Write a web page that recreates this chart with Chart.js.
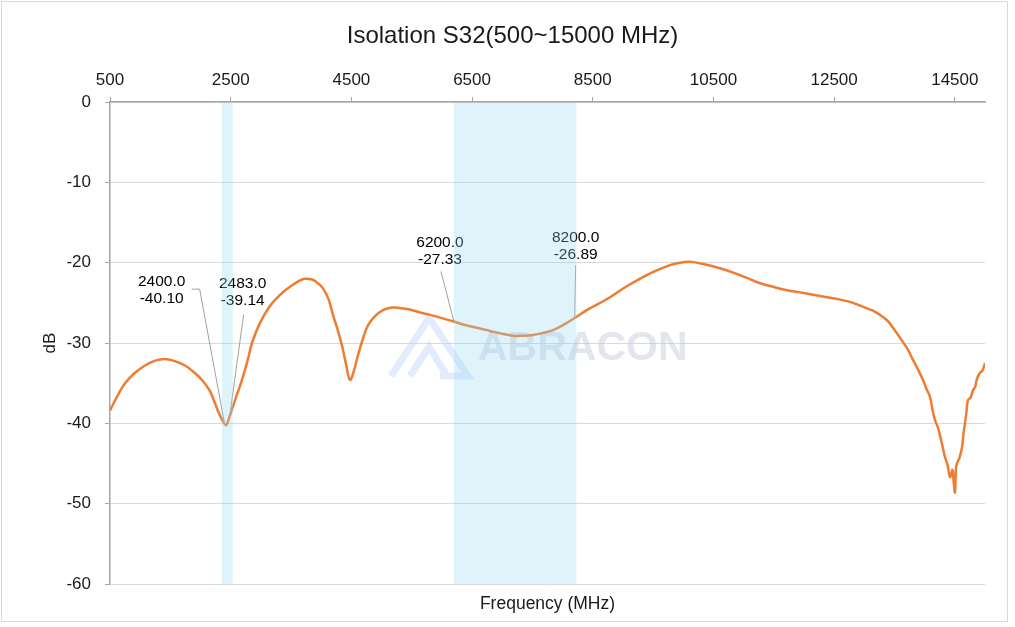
<!DOCTYPE html>
<html>
<head>
<meta charset="utf-8">
<script src="https://cdn.jsdelivr.net/npm/chart.js@4/dist/chart.umd.min.js"></script>
<style>
  body { margin: 0; background: #fff; }
  #wrap { width: 1015px; height: 627px; position: relative; }
</style>
</head>
<body>
<div id="wrap"><canvas id="isoChart"></canvas></div>
<script>
// measured S32 curve (MHz, dB)
var freq = [500, 650, 750, 900, 1080, 1250, 1411, 1550, 1743, 1900, 2024, 2150, 2240, 2320, 2400, 2430, 2483, 2538, 2600, 2687,
  2780, 2853, 2986, 3150, 3317, 3500, 3650, 3731, 3850, 3950, 4030, 4120, 4195, 4270, 4344, 4410, 4477, 4540, 4610, 4690,
  4775, 4900, 5024, 5150, 5256, 5450, 5637, 5803, 6000, 6200, 6400, 6581, 6800, 6962, 7178, 7350, 7509, 7700, 7841, 8000,
  8200, 8400, 8600, 8785, 9050, 9332, 9550, 9779, 9950, 10111, 10350, 10608, 10850, 11055, 11250, 11486, 11700, 11933, 12150, 12381,
  12600, 12812, 13044, 13150, 13259, 13380, 13475, 13560, 13641, 13720, 13807, 13890, 13972, 14030, 14088, 14130, 14171, 14215, 14254, 14300,
  14337, 14380, 14420, 14460, 14480, 14502, 14520, 14535, 14580, 14618, 14645, 14668, 14690, 14718, 14760, 14800, 14834, 14870, 14917, 14960, 15000];
var s32 = [-38.4, -36.2, -35.0, -33.8, -32.8, -32.2, -32.0, -32.2, -32.8, -33.7, -34.6, -35.9, -37.5, -39.0, -40.1, -40.2, -39.14, -37.9, -36.5, -34.6,
  -32.2, -30.0, -27.5, -25.4, -24.0, -22.9, -22.2, -22.0, -22.1, -22.6, -23.2, -24.5, -26.5, -28.3, -30.3, -32.6, -34.6, -33.5, -31.5, -29.5,
  -27.8, -26.6, -25.9, -25.6, -25.6, -25.8, -26.2, -26.5, -26.9, -27.33, -27.8, -28.1, -28.5, -28.8, -29.1, -29.1, -29.0, -28.7, -28.4, -27.8,
  -26.89, -25.9, -25.1, -24.3, -23.0, -21.8, -21.0, -20.3, -20.0, -19.9, -20.2, -20.7, -21.3, -21.9, -22.5, -23.0, -23.4, -23.7, -24.0, -24.3,
  -24.6, -25.0, -25.7, -26.0, -26.5, -27.2, -28.1, -29.0, -29.9, -30.8, -32.1, -33.3, -34.6, -35.7, -36.7, -38.3, -39.6, -40.4, -41.5, -43.0,
  -44.2, -45.2, -46.7, -45.8, -47.2, -48.6, -45.5, -45.0, -44.2, -43.0, -41.2, -40.0, -38.8, -37.1, -36.8, -35.9, -35.5, -34.4, -33.7, -33.4, -32.5];

var xTicks = [500, 2500, 4500, 6500, 8500, 10500, 12500, 14500];
var yTicks = [0, -10, -20, -30, -40, -50, -60];

// shaded bands (MHz)
var bandStart = [2355, 6200];
var bandEnd = [2535, 8230];

// marker callouts
var markerFreq = [2400, 2483, 6200, 8200];
var markerDb = [-40.10, -39.14, -27.33, -26.89];
// label offsets from the marker point, in pixels: [textDx, textDy, leaderDx, leaderDy, stub]
var markerLayout = [[-63, -134, -25, -135, -8], [13, -124, 14, -102, 0], [-14, -70, -13, -50, 0], [1, -72, 1, -53, 0]];

var FONT = '"Liberation Sans", Arial, sans-serif';

var frame = {
  id: 'frame',
  beforeDraw: function (chart) {
    var c = chart.ctx;
    c.save();
    c.fillStyle = '#fff';
    c.fillRect(0, 0, chart.width, chart.height);
    c.strokeStyle = '#d9d9d9';
    c.lineWidth = 1;
    c.strokeRect(1.5, 1.5, 1006, 620);
    c.restore();
  }
};

var watermark = {
  id: 'watermark',
  beforeDatasetsDraw: function (chart) {
    var c = chart.ctx;
    c.save();
    c.strokeStyle = 'rgba(190,212,250,0.45)';
    c.lineWidth = 7;
    c.lineJoin = 'miter';
    c.beginPath();
    c.moveTo(391, 376); c.lineTo(429, 318); c.lineTo(468, 376); c.lineTo(440, 376);
    c.moveTo(410, 376); c.lineTo(429, 347); c.lineTo(447, 376);
    c.stroke();
    c.fillStyle = 'rgba(200,205,222,0.5)';
    c.font = 'bold 41px ' + FONT;
    c.textBaseline = 'alphabetic';
    c.fillText('ABRACON', 478, 360, 228);
    c.restore();
  }
};

var callouts = {
  id: 'callouts',
  afterDatasetsDraw: function (chart) {
    var c = chart.ctx, xs = chart.scales.x, ys = chart.scales.y;
    c.save();
    c.font = '15.5px ' + FONT;
    c.textAlign = 'center';
    c.textBaseline = 'middle';
    for (var i = 0; i < markerFreq.length; i++) {
      var px = xs.getPixelForValue(markerFreq[i]);
      var py = ys.getPixelForValue(markerDb[i]);
      var L = markerLayout[i];
      c.strokeStyle = '#a0a0a0';
      c.lineWidth = 1;
      c.beginPath();
      if (L[4]) { c.moveTo(px + L[2] + L[4], py + L[3]); c.lineTo(px + L[2], py + L[3]); }
      else c.moveTo(px + L[2], py + L[3]);
      c.lineTo(px, py);
      c.stroke();
      c.fillStyle = '#000';
      c.fillText(markerFreq[i].toFixed(1), px + L[0], py + L[1] - 8.5);
      c.fillText(markerDb[i].toFixed(2), px + L[0], py + L[1] + 8.5);
    }
    // bands go over line and callouts
    var top = ys.getPixelForValue(0), bottom = ys.getPixelForValue(-60);
    c.fillStyle = 'rgba(150,215,242,0.3)';
    for (var j = 0; j < bandStart.length; j++) {
      var a = xs.getPixelForValue(bandStart[j]), b = xs.getPixelForValue(bandEnd[j]);
      c.fillRect(a, top + 1, b - a, bottom - top - 1);
    }
    c.restore();
  }
};

var pts = freq.map(function (f, i) { return { x: f, y: s32[i] }; });

new Chart(document.getElementById('isoChart'), {
  type: 'line',
  data: {
    datasets: [{
      label: 'S32',
      data: pts,
      borderColor: '#ED7D31',
      borderWidth: 2.5,
      pointRadius: 0,
      tension: 0.4,
      fill: false
    }]
  },
  options: {
    responsive: true,
    maintainAspectRatio: false,
    animation: false,
    layout: { padding: { left: 40, right: 30, top: 20, bottom: 6 } },
    plugins: {
      legend: { display: false },
      tooltip: { enabled: false },
      title: {
        display: true,
        text: 'Isolation S32(500~15000 MHz)',
        color: '#1a1a1a',
        font: { family: FONT, size: 24, weight: 'normal' },
        padding: { top: 2, bottom: 2 }
      }
    },
    scales: {
      x: {
        type: 'linear',
        position: 'top',
        min: 500,
        max: 15000,
        afterBuildTicks: function (s) { s.ticks = xTicks.map(function (v) { return { value: v }; }); },
        afterFit: function (s) { s.height = 49.2; },
        ticks: {
          color: '#1a1a1a', font: { family: FONT, size: 17 }, padding: 6, maxRotation: 0, autoSkip: false,
          callback: function (v) { return String(v); }
        },
        grid: { drawOnChartArea: false, drawTicks: true, tickLength: 5, tickColor: '#a6a6a6' },
        border: { color: '#a6a6a6', width: 1.5 }
      },
      x2: {
        type: 'linear',
        position: 'bottom',
        min: 500,
        max: 15000,
        afterFit: function (s) { s.height = 37; },
        ticks: { display: false },
        grid: { display: false, drawTicks: false },
        border: { display: false },
        title: { display: true, text: 'Frequency (MHz)', color: '#1a1a1a', font: { family: FONT, size: 17.5 }, padding: { top: 0, bottom: 6.5 } }
      },
      y: {
        type: 'linear',
        min: -60,
        max: 0,
        afterBuildTicks: function (s) { s.ticks = yTicks.map(function (v) { return { value: v }; }); },
        afterFit: function (s) { s.width = 70; },
        ticks: { color: '#1a1a1a', font: { family: FONT, size: 17 }, padding: 14 },
        grid: { color: '#d9d9d9', tickLength: 5, tickColor: '#a6a6a6' },
        border: { color: '#a6a6a6', width: 1.5 },
        title: { display: true, text: 'dB', color: '#1a1a1a', font: { family: FONT, size: 17 }, padding: { top: 0, bottom: 0 } }
      }
    }
  },
  plugins: [frame, watermark, callouts]
});
</script>
</body>
</html>
